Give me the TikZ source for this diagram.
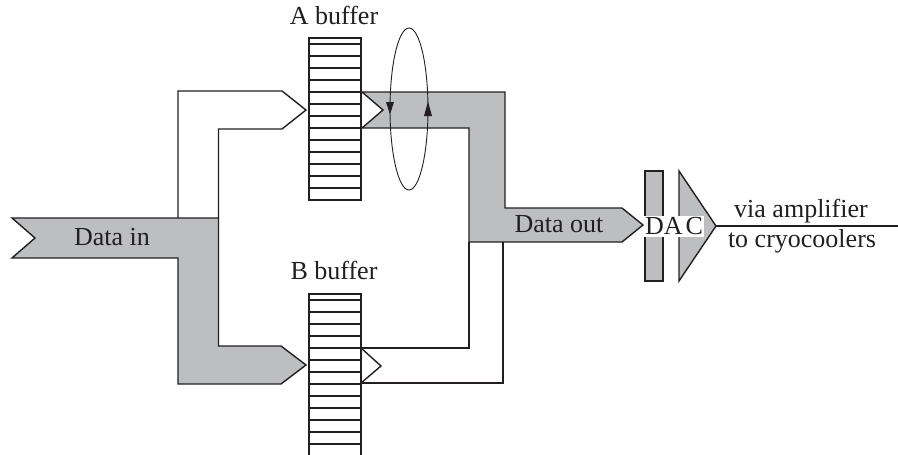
\documentclass[tikz,border=0pt]{standalone}
\usepackage{fontspec}
\setmainfont{Liberation Serif}
\usetikzlibrary{arrows.meta}
\definecolor{ink}{HTML}{231F20}
\definecolor{pipe}{HTML}{BCBEC0}
\tikzset{
  pipeline/.style={draw=ink, line width=1.4pt, line join=miter},
  flow/.style={pipeline, fill=pipe},
  cellbox/.style={draw=ink, line width=1.2pt, fill=white},
  ring/.style={draw=ink, line width=0.9pt},
  txt/.style={font=\fontsize{26}{30}\selectfont, text=ink, inner sep=0pt},
  lbl/.style={txt, anchor=base},
}
\begin{document}
\begin{tikzpicture}[x=1pt,y=-1pt]
\useasboundingbox (0,0) rectangle (898,455);

% incoming data, split towards the two buffers
\draw[flow] (12,218) -- (218.5,218) -- (218.5,346) -- (281,346) -- (306,365)
  -- (281,384) -- (178,384) -- (178,258) -- (12,258) -- (35,238) -- cycle;
\draw[pipeline] (178,218) -- (178,91) -- (282,91) -- (306,110) -- (282,129)
  -- (218.5,129) -- (218.5,218);

% outgoing data from buffer A
\draw[flow] (362,92) -- (505,92) -- (505,208) -- (622,208) -- (643,225)
  -- (622,242) -- (469,242) -- (469,128) -- (362,128) -- (383,110) -- cycle;

% return path from buffer B
\draw[pipeline] (361,348) -- (381,366) -- (361,383);
\draw[pipeline] (361,348) -- (469,348) -- (469,242);
\draw[pipeline] (361,383) -- (503,383) -- (503,242);

% the two buffers
\foreach \t in {38,294}{
  \draw[cellbox] (309,\t) rectangle (361,\t+162);
  \foreach \k in {0,...,12}
    \draw[ink, line width=1.4pt] (309,\t+6+12*\k) -- (361,\t+6+12*\k);
}
\node[lbl] (abuf) at (334,24) {A buffer};
\node[lbl] (bbuf) at (334,279) {B buffer};

% swap loop
\draw[ring] (409,109) ellipse [x radius=19, y radius=81];
\fill[ink] (386,102) -- (394,102) -- (390,114.5) -- cycle;
\fill[ink] (424,116) -- (432,116) -- (428,101.5) -- cycle;

% labels on the data paths
\node[lbl] (din) at (112,245) {Data in};
\node[lbl] (dout) at (559,232) {Data out};

% converter
\draw[flow] (645,171) rectangle (663,281);
\draw[flow] (679,171) -- (716,226) -- (679,281) -- cycle;
\coordinate (dactip) at (716,226);
\coordinate (outend) at (898,226);
\node[txt, fill=white, inner xsep=1pt, inner ysep=1.5pt] (dac) at (674,226.5) {DA\hspace{3pt}C};
\draw[pipeline] (dactip) -- (outend);
\node[lbl] (via) at (801,217) {via amplifier};
\node[lbl] (cryo) at (802,247) {to cryocoolers};
\end{tikzpicture}
\end{document}
